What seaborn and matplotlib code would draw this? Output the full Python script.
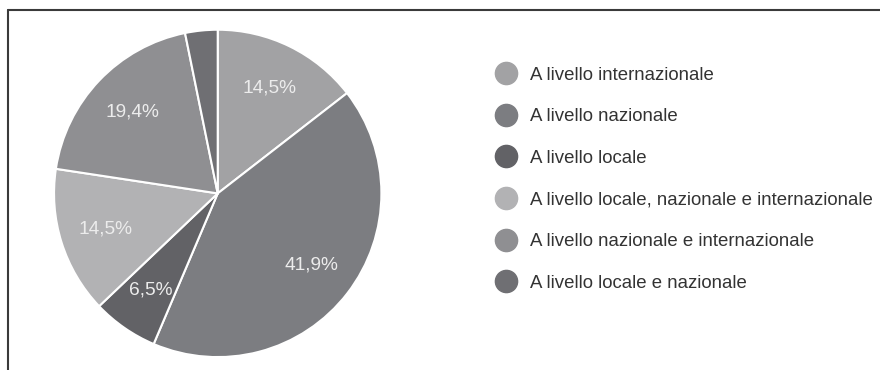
import matplotlib
matplotlib.use("Agg")
import matplotlib.pyplot as plt
from matplotlib.lines import Line2D
import seaborn as sns

categories = [
    "A livello internazionale",
    "A livello nazionale",
    "A livello locale",
    "A livello locale, nazionale e internazionale",
    "A livello nazionale e internazionale",
    "A livello locale e nazionale",
]
values = [14.5, 41.9, 6.5, 14.5, 19.4, 3.2]
colors = ["#a2a2a4", "#7c7d81", "#626266", "#b2b2b4", "#8f8f92", "#6f6f73"]

sns.set_theme(style="white")
plt.rcParams["font.family"] = ["Liberation Sans", "DejaVu Sans"]

fig = plt.figure(figsize=(8.8, 3.7), dpi=100)
fig.patch.set_facecolor("white")

ax = fig.add_axes([0.0614, 0.0338, 0.372, 0.887])


def fmt(p):
    return ("%.1f%%" % p).replace(".", ",") if p >= 5 else ""


wedges, texts, autotexts = ax.pie(
    values,
    colors=colors,
    startangle=90,
    counterclock=False,
    autopct=fmt,
    pctdistance=0.72,
    wedgeprops=dict(edgecolor="white", linewidth=1.5),
    textprops=dict(color="#ececec", fontsize=13.8),
)
ax.set_aspect("equal")
ax.set_xlim(-1, 1)
ax.set_ylim(-1, 1)

handles = [
    Line2D([0], [0], marker="o", linestyle="none", markersize=16,
           markerfacecolor=c, markeredgecolor=c)
    for c in colors
]
fig.legend(
    handles, categories,
    loc="upper left", bbox_to_anchor=(0.5534, 0.840),
    frameon=False, fontsize=13.4, labelspacing=1.32,
    handletextpad=0.72, handlelength=1.2, borderaxespad=0,
    labelcolor="#333333",
)

# partial frame (top and left edges)
fig.add_artist(Line2D([8 / 880, 8 / 880], [0, 1 - 10 / 370], color="#3a3a3a", lw=1.5,
                      transform=fig.transFigure))
fig.add_artist(Line2D([8 / 880, 1], [1 - 10 / 370, 1 - 10 / 370], color="#3a3a3a", lw=1.5,
                      transform=fig.transFigure))

fig.savefig("out.png", dpi=100)
